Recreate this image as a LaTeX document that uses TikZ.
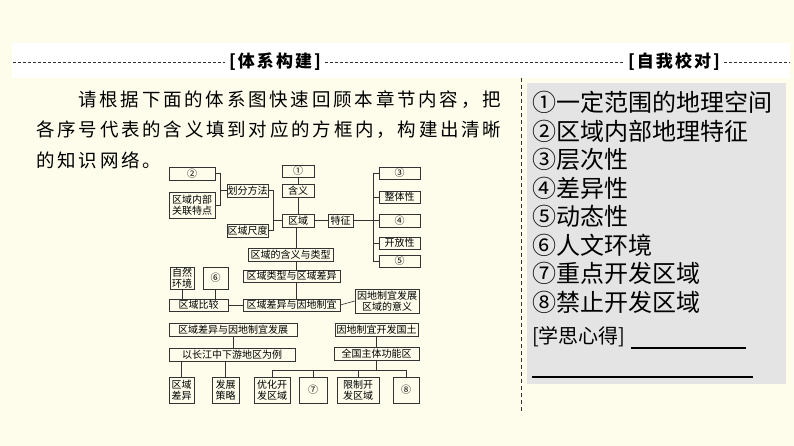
\documentclass[tikz,border=0pt]{standalone}
\usepackage{fontspec}
\newfontfamily\cjk{Noto Sans CJK SC}
\newfontfamily\cjkpar[LetterSpace=15]{Noto Sans CJK SC}
\newfontfamily\cjkcab[LetterSpace=12]{Noto Sans CJK SC}
\definecolor{fondo}{HTML}{FEFCEB}
\definecolor{gris}{HTML}{E4E4E4}
\definecolor{linea}{HTML}{333333}
\tikzset{
    caja/.style={draw=linea, line width=0.6pt, inner sep=0pt, align=center,
        font=\cjk\fontsize{10}{11.5}\selectfont},
    enlace/.style={draw=linea, line width=0.6pt},
    resp/.style={anchor=west, inner sep=0pt, font=\cjk\fontsize{24}{26}\selectfont},
    parrafo/.style={anchor=west, inner sep=0pt, font=\cjkpar\fontsize{18.5}{22}\selectfont},
    cabecera/.style={inner sep=4pt, font=\cjkcab\bfseries\fontsize{17}{19}\selectfont},
}
\begin{document}
\begin{tikzpicture}[x=1pt,y=-1pt]
    \fill[fondo] (0,0) rectangle (794,446);
    \useasboundingbox (0,0) rectangle (794,446);
    % Cabecera
    \fill[white] (12,43) rectangle (790,78);
    \node[cabecera] (tA) at (275,62) {[体系构建]};
    \node[cabecera] (tB) at (674,62) {[自我校对]};
    \draw[linea, dash pattern=on 3pt off 2pt] (13,62) -- (tA.west);
    \draw[linea, dash pattern=on 3pt off 2pt] (tA.east) -- (tB.west);
    \draw[linea, dash pattern=on 3pt off 2pt] (tB.east) -- (790,62);
    \draw[linea, line width=1pt, dash pattern=on 4pt off 3pt] (521,78) -- (521,413);
    % Enunciado
    \node[parrafo] (p1) at (78,100) {请根据下面的体系图快速回顾本章节内容，把};
    \node[parrafo] (p2) at (36,130) {各序号代表的含义填到对应的方框内，构建出清晰};
    \node[parrafo] (p3) at (36,160) {的知识网络。};
    % Respuestas
    \fill[gris] (527,83) rectangle (786,384);
    \foreach \y/\t [count=\i] in {102/①一定范围的地理空间, 131/②区域内部地理特征,
        159/③层次性, 188/④差异性, 216/⑤动态性, 245/⑥人文环境,
        273/⑦重点开发区域, 302/⑧禁止开发区域}
        \node[resp] (r\i) at (532,\y) {\t};
    \node[resp, font=\cjk\fontsize{20}{22}\selectfont] (xs) at (532,337) {[学思心得]};
    \draw[line width=1.2pt] (631,348) -- (746,348);
    \draw[line width=1.2pt] (532,377) -- (753,377);
    % Diagrama
    \coordinate (eje) at (296,0);
    \coordinate (c1) at (220,0);
    \coordinate (c2) at (273,0);
    \coordinate (c3) at (373,0);
    \node[caja, minimum width=46, minimum height=13] (n2) at (192,173.5) {②};
    \node[caja, minimum width=46, minimum height=26] (tz) at (192,205) {区域内部\\关联特点};
    \node[caja, minimum width=41, minimum height=13] (hf) at (247.5,190.5) {划分方法};
    \node[caja, minimum width=41, minimum height=13] (cd) at (247.5,230.5) {区域尺度};
    \node[caja, minimum width=32, minimum height=12] (n1) at (298,171) {①};
    \node[caja, minimum width=32, minimum height=13] (hy) at (298,190.5) {含义};
    \node[caja, minimum width=32, minimum height=13] (qy) at (298,220.5) {区域};
    \node[caja, minimum width=25, minimum height=13] (tzg) at (340.5,220.5) {特征};
    \node[caja, minimum width=41, minimum height=12] (n3) at (399.5,173) {③};
    \node[caja, minimum width=41, minimum height=12] (zt) at (399.5,197) {整体性};
    \node[caja, minimum width=41, minimum height=13] (n4) at (399.5,220.5) {④};
    \node[caja, minimum width=41, minimum height=12] (kf) at (399.5,243) {开放性};
    \node[caja, minimum width=41, minimum height=12] (n5) at (399.5,261) {⑤};
    \node[caja, minimum width=85, minimum height=13] (hx) at (290.5,254.5) {区域的含义与类型};
    \node[caja, minimum width=97, minimum height=12] (lx) at (291.5,276) {区域类型与区域差异};
    \node[caja, minimum width=97, minimum height=12] (cy) at (291.5,305) {区域差异与因地制宜};
    \node[caja, minimum width=24, minimum height=22] (zr) at (182,278) {自然\\环境};
    \node[caja, minimum width=25, minimum height=22] (n6) at (215.5,278) {⑥};
    \node[caja, minimum width=59, minimum height=12] (bj) at (198.5,305) {区域比较};
    \node[caja, minimum width=64, minimum height=24] (yy) at (387,301) {因地制宜发展\\区域的意义};
    \node[caja, minimum width=128, minimum height=13] (fz) at (233,329.5) {区域差异与因地制宜发展};
    \node[caja, minimum width=83, minimum height=13] (kg) at (376.5,329.5) {因地制宜开发国土};
    \node[caja, minimum width=126, minimum height=13] (cj) at (232,354.5) {以长江中下游地区为例};
    \node[caja, minimum width=85, minimum height=13] (gz) at (376.5,353.5) {全国主体功能区};
    \node[caja, minimum width=25, minimum height=26] (qc) at (181.5,390) {区域\\差异};
    \node[caja, minimum width=27, minimum height=26] (cl) at (225.5,390) {发展\\策略};
    \node[caja, minimum width=36, minimum height=26] (yh) at (272,390) {优化开\\发区域};
    \node[caja, minimum width=28, minimum height=26] (n7) at (313,390) {⑦};
    \node[caja, minimum width=42, minimum height=26] (xz) at (358,390) {限制开\\发区域};
    \node[caja, minimum width=26, minimum height=26] (n8) at (406,390) {⑧};
    % Enlaces
    \draw[enlace] (n2.east) -- (n2.east -| c1) |- (tz.east);
    \draw[enlace] (hf.west) -- (hf.west -| c1);
    \draw[enlace] (hf.east) -- (hf.east -| c2) |- (cd.east);
    \draw[enlace] (qy.west) -- (qy.west -| c2);
    \draw[enlace] (n1) -- (hy);
    \draw[enlace] (hy) -- (qy);
    \draw[enlace] (qy.east) -- (tzg.west);
    \draw[enlace] (n3.west) -- (n3.west -| c3) |- (n5.west);
    \draw[enlace] (tzg.east) -- (tzg.east -| c3);
    \draw[enlace] (zt.west) -- (zt.west -| c3);
    \draw[enlace] (n4.west) -- (n4.west -| c3);
    \draw[enlace] (kf.west) -- (kf.west -| c3);
    \draw[enlace] (qy.south -| eje) -- (hx.north -| eje);
    \draw[enlace] (hx.south -| eje) -- (lx.north -| eje);
    \draw[enlace] (lx.south -| eje) -- (cy.north -| eje);
    \draw[enlace] (zr.south) -- (zr.south |- bj.north);
    \draw[enlace] (n6.south) -- (n6.south |- bj.north);
    \draw[enlace] (bj.east) -- (cy.west);
    \draw[enlace] (cy.east) -- (yy.west);
    \draw[enlace] (fz.south) -- (fz.south |- cj.north);
    \draw[enlace] (kg.south) -- (kg.south |- gz.north);
    \draw[enlace] (cj.south -| qc.north) -- (qc.north);
    \draw[enlace] (cj.south -| cl.north) -- (cl.north);
    \draw[enlace] (gz.south) -- ++(0,11);
    \draw[enlace] (yh.north) -- ++(0,-6) -| (n8.north);
    \draw[enlace] (n7.north) -- ++(0,-6);
    \draw[enlace] (xz.north) -- ++(0,-6);
\end{tikzpicture}
\end{document}
